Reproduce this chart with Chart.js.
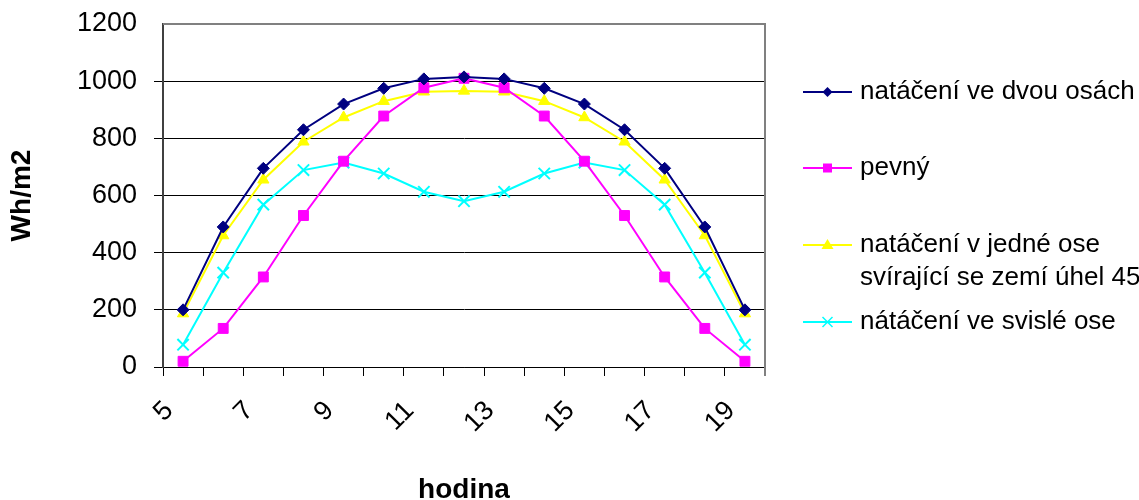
<!DOCTYPE html>
<html>
<head>
<meta charset="utf-8">
<script src="https://cdn.jsdelivr.net/npm/chart.js@4/dist/chart.umd.min.js"></script>
<style>
  html, body { margin: 0; padding: 0; background: #ffffff; }
  #wrap { width: 1139px; height: 500px; }
</style>
</head>
<body>
<div id="wrap"><canvas id="c" width="1139" height="500"></canvas></div>
<script>
// Hour of day
const hours = [5, 6, 7, 8, 9, 10, 11, 12, 13, 14, 15, 16, 17, 18, 19];

// Daily irradiation profiles, Wh/m2
const dvouOsach = [200, 490, 695, 830, 920, 975, 1008, 1015, 1008, 975, 920, 830, 695, 490, 200];
const pevny     = [20, 135, 315, 530, 720, 878, 977, 1010, 977, 878, 720, 530, 315, 135, 20];
const jedneOse  = [187, 460, 655, 788, 873, 930, 963, 966, 963, 930, 873, 788, 655, 460, 187];
const svisleOse = [78, 330, 568, 689, 715, 677, 613, 580, 613, 677, 715, 689, 568, 330, 78];

const seriesNames = [
  'natáčení ve dvou osách',
  'pevný',
  ['natáčení v jedné ose', 'svírající se zemí úhel 45'],
  'nátáčení ve svislé ose'
];

const yTicks = [0, 200, 400, 600, 800, 1000, 1200];

const FONT = '"Liberation Sans", Arial, Helvetica, sans-serif';
const NAVY = '#000080', MAGENTA = '#FF00FF', YELLOW = '#FFFF00', CYAN = '#00FFFF';

// Plot frame (top and right edge) in grey, as in the spreadsheet style
const frame = {
  id: 'frame',
  afterDatasetsDraw(chart) {
    const { ctx, chartArea: a } = chart;
    ctx.save();
    ctx.strokeStyle = '#808080';
    ctx.lineWidth = 2;
    ctx.beginPath();
    ctx.moveTo(a.left, a.top);
    ctx.lineTo(a.right, a.top);
    ctx.lineTo(a.right, a.bottom + 9);
    ctx.stroke();
    ctx.restore();
  }
};

// Legend drawn to the right of the plot
function marker(ctx, kind, x, y) {
  ctx.beginPath();
  if (kind === 'diamond') {
    ctx.moveTo(x, y - 5); ctx.lineTo(x + 5, y); ctx.lineTo(x, y + 5); ctx.lineTo(x - 5, y);
    ctx.closePath(); ctx.fill();
  } else if (kind === 'square') {
    ctx.rect(x - 4.5, y - 4.5, 9, 9); ctx.fill();
  } else if (kind === 'triangle') {
    ctx.moveTo(x, y - 6); ctx.lineTo(x + 6, y + 4); ctx.lineTo(x - 6, y + 4);
    ctx.closePath(); ctx.fill();
  } else {
    ctx.moveTo(x - 5, y - 5); ctx.lineTo(x + 5, y + 5);
    ctx.moveTo(x + 5, y - 5); ctx.lineTo(x - 5, y + 5);
    ctx.lineWidth = 1.5; ctx.stroke();
  }
}

const sideLegend = {
  id: 'sideLegend',
  afterDraw(chart) {
    const { ctx, chartArea: a } = chart;
    const rows = [92, 168, 245, 322];
    const kinds = ['diamond', 'square', 'triangle', 'cross'];
    const x0 = a.right + 38, x1 = a.right + 87, tx = a.right + 95;
    ctx.save();
    ctx.font = '26px ' + FONT;
    ctx.textBaseline = 'middle';
    ctx.textAlign = 'left';
    chart.data.datasets.forEach((ds, i) => {
      const y = rows[i];
      ctx.strokeStyle = ds.borderColor;
      ctx.fillStyle = ds.borderColor;
      ctx.lineWidth = 2;
      ctx.beginPath(); ctx.moveTo(x0, y); ctx.lineTo(x1, y); ctx.stroke();
      marker(ctx, kinds[i], (x0 + x1) / 2, y);
      ctx.fillStyle = '#000000';
      const lines = Array.isArray(seriesNames[i]) ? seriesNames[i] : [seriesNames[i]];
      lines.forEach((t, k) => ctx.fillText(t, tx, y + k * 33));
    });
    ctx.restore();
  }
};

new Chart(document.getElementById('c'), {
  type: 'line',
  data: {
    labels: hours,
    datasets: [
      { label: 'natáčení ve dvou osách', data: dvouOsach, borderColor: NAVY, backgroundColor: NAVY,
        pointStyle: 'rectRot', pointRadius: 6, pointBorderWidth: 1 },
      { label: 'pevný', data: pevny, borderColor: MAGENTA, backgroundColor: MAGENTA,
        pointStyle: 'rect', pointRadius: 7, pointBorderWidth: 1 },
      { label: 'natáčení v jedné ose svírající se zemí úhel 45', data: jedneOse, borderColor: YELLOW, backgroundColor: YELLOW,
        pointStyle: 'triangle', pointRadius: 6.5, pointBorderWidth: 1 },
      { label: 'nátáčení ve svislé ose', data: svisleOse, borderColor: CYAN, backgroundColor: CYAN,
        pointStyle: 'crossRot', pointRadius: 8, pointBorderWidth: 2 }
    ]
  },
  options: {
    responsive: false,
    animation: false,
    devicePixelRatio: 1,
    layout: { padding: { top: 24, right: 374, left: 0, bottom: 0 } },
    elements: { line: { borderWidth: 2, tension: 0 } },
    plugins: { legend: { display: false }, tooltip: { enabled: false } },
    scales: {
      x: {
        type: 'category',
        offset: true,
        afterFit(s) { s.height = 133; s.paddingLeft = 0; s.paddingRight = 0; },
        grid: { offset: true, drawOnChartArea: false, drawTicks: true, tickLength: 9, color: '#000000' },
        border: { color: '#000000', width: 1 },
        ticks: {
          autoSkip: false,
          minRotation: 45, maxRotation: 45,
          padding: 19,
          labelOffset: -14,
          color: '#000000',
          font: { family: FONT, size: 27 },
          callback(v, i) { return i % 2 === 0 ? String(hours[i]) : ''; }
        },
        title: { display: true, text: 'hodina', color: '#000000',
          font: { family: FONT, size: 28, weight: 'bold', lineHeight: 1 },
          padding: { top: 0, bottom: -4 } }
      },
      y: {
        min: 0, max: 1200,
        afterFit(s) { s.width = 163; s.paddingTop = 0; s.paddingBottom = 0; },
        afterBuildTicks(s) { s.ticks = yTicks.map(v => ({ value: v })); },
        grid: {
          color: (c) => (c.tick && c.tick.value === 1200 ? 'rgba(0,0,0,0)' : '#000000'),
          lineWidth: 1, tickLength: 9, drawTicks: true
        },
        border: { color: '#404040', width: 2 },
        ticks: { padding: 17, color: '#000000', font: { family: FONT, size: 27 },
          callback(v) { return String(v); } },
        title: { display: true, text: 'Wh/m2', color: '#000000',
          font: { family: FONT, size: 28, weight: 'bold', lineHeight: 1 },
          padding: { top: 8, bottom: 0 } }
      }
    }
  },
  plugins: [frame, sideLegend]
});
</script>
</body>
</html>
